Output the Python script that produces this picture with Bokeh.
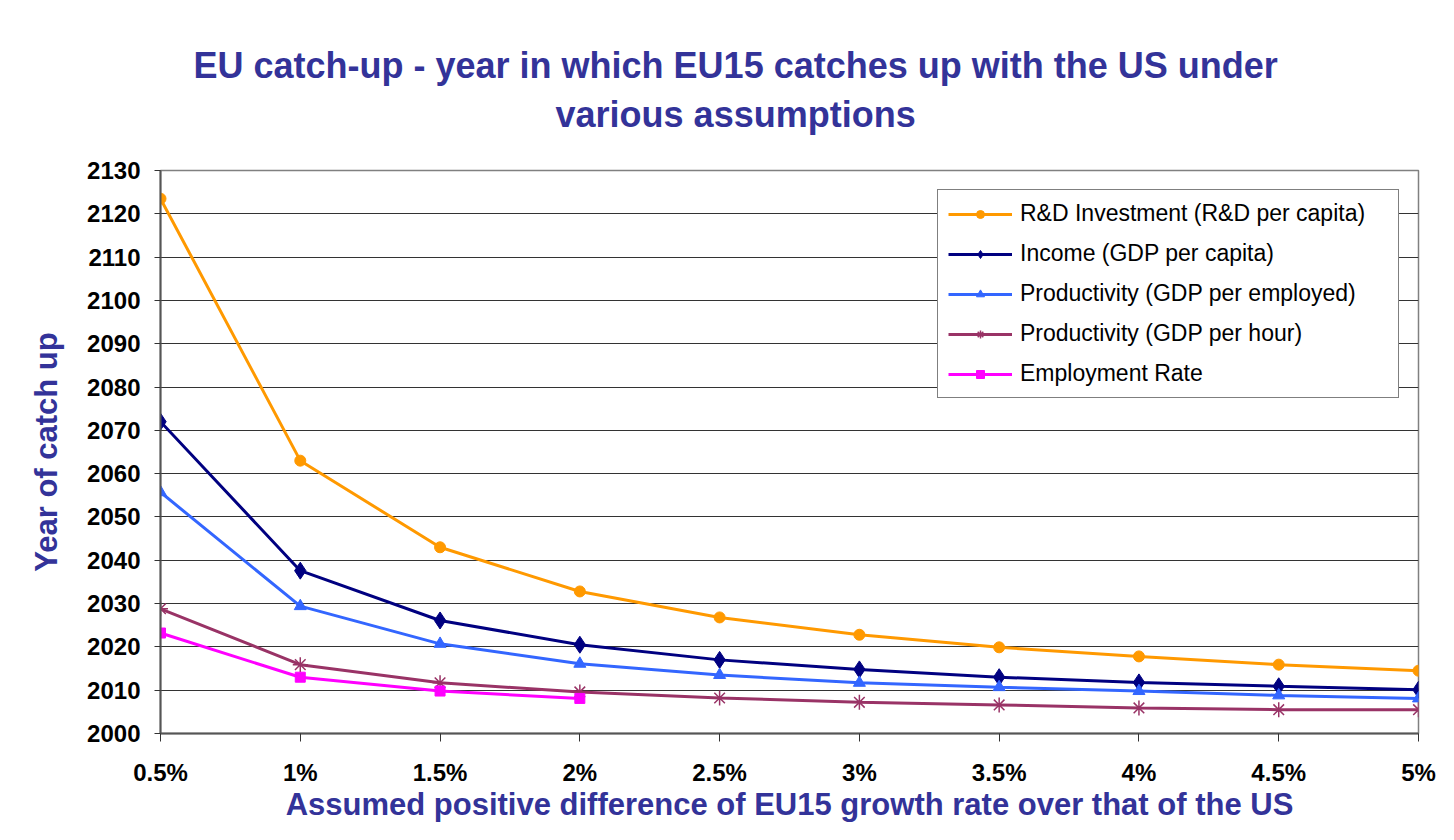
from bokeh.plotting import figure
from bokeh.models import Range1d, FixedTicker, NumeralTickFormatter, Legend, LegendItem, Title
from bokeh.embed import file_html
from bokeh.resources import INLINE

# ---- data ----
growth_diff = [0.005, 0.01, 0.015, 0.02, 0.025, 0.03, 0.035, 0.04, 0.045, 0.05]
rd_investment = [2123.5, 2063.0, 2043.0, 2032.8, 2026.8, 2022.8, 2019.9, 2017.8, 2015.9, 2014.5]
income = [2072.0, 2037.6, 2026.1, 2020.5, 2017.0, 2014.8, 2013.0, 2011.8, 2010.9, 2010.1]
prod_employed = [2055.7, 2029.4, 2020.7, 2016.1, 2013.5, 2011.7, 2010.7, 2009.8, 2008.8, 2008.1]
prod_hour = [2028.8, 2015.9, 2011.7, 2009.6, 2008.2, 2007.2, 2006.6, 2005.9, 2005.5, 2005.5]
employment_x = [0.005, 0.01, 0.015, 0.02]
employment_rate = [2023.2, 2013.0, 2009.8, 2008.1]
y_ticks = list(range(2000, 2131, 10))

series = [
    ("R&D Investment (R&D per capita)", growth_diff, rd_investment, "#FF9900", "circle", 11),
    ("Income (GDP per capita)", growth_diff, income, "#000080", "diamond", 17),
    ("Productivity (GDP per employed)", growth_diff, prod_employed, "#3366FF", "triangle", 12),
    ("Productivity (GDP per hour)", growth_diff, prod_hour, "#993366", "asterisk", 15),
    ("Employment Rate", employment_x, employment_rate, "#FF00FF", "square", 10),
]

FONT = "Liberation Sans"
TITLE_COLOR = "#333399"
TITLE_TEXT = "EU catch-up - year in which EU15 catches up with the US under\nvarious assumptions"

p = figure(width=1438, height=824, output_backend="svg", toolbar_location=None,
           x_range=Range1d(0.005, 0.05), y_range=Range1d(2000, 2130),
           min_border_left=160, min_border_right=20, min_border_top=170, min_border_bottom=91)
p.title = None

t = Title(text=TITLE_TEXT, align="left", text_align="center", text_font=FONT,
          text_font_size="36px", text_font_style="bold", text_color=TITLE_COLOR,
          text_line_height=1.2, standoff=71, offset=33)
p.add_layout(t, "above")

p.background_fill_color = "white"
p.border_fill_color = "white"
p.outline_line_color = "#808080"
p.outline_line_width = 1.5

# axes
p.xaxis.ticker = FixedTicker(ticks=growth_diff)
p.xaxis.formatter = NumeralTickFormatter(format="0.[0]%")
p.yaxis.ticker = FixedTicker(ticks=y_ticks)
for ax in (p.xaxis[0], p.yaxis[0]):
    ax.major_label_text_font = FONT
    ax.major_label_text_font_size = "24px"
    ax.major_label_text_font_style = "bold"
    ax.major_label_text_color = "black"
    ax.axis_line_color = "#555555"
    ax.axis_line_width = 2
    ax.major_tick_line_color = "#333333"
    ax.minor_tick_line_color = None
    ax.major_tick_in = 0
    ax.axis_label_text_font = FONT
    ax.axis_label_text_font_size = "31px"
    ax.axis_label_text_font_style = "bold"
    ax.axis_label_text_color = TITLE_COLOR
p.xaxis.major_tick_out = 8
p.yaxis.major_tick_out = 6
p.xaxis.major_label_standoff = 17
p.yaxis.major_label_standoff = 14
p.xaxis.axis_label = "Assumed positive difference of EU15 growth rate over that of the US"
p.yaxis.axis_label = "Year of catch up"
p.xaxis.axis_label_standoff = -2
p.yaxis.axis_label_standoff = 20

p.xgrid.grid_line_color = None
p.ygrid.grid_line_color = "#333333"
p.ygrid.grid_line_width = 1

items = []
for name, xs, ys, color, marker, size in series:
    r_line = p.line(xs, ys, line_color=color, line_width=3)
    if marker == "asterisk":
        r_mark = p.scatter(xs, ys, marker=marker, size=size, line_color=color, line_width=1.5)
    else:
        r_mark = p.scatter(xs, ys, marker=marker, size=size, fill_color=color, line_color=color)
    items.append(LegendItem(label=name, renderers=[r_line, r_mark]))

legend = Legend(items=items, location="top_right", margin=19,
                label_text_font=FONT, label_text_font_size="23px", label_text_color="black",
                glyph_width=64, glyph_height=20, label_height=20, spacing=13,
                label_standoff=8, padding=10, label_width=368,
                border_line_color="black", border_line_width=1.5,
                background_fill_color="white", background_fill_alpha=1)
p.add_layout(legend, "center")

open("out.html", "w").write(file_html(p, INLINE))
